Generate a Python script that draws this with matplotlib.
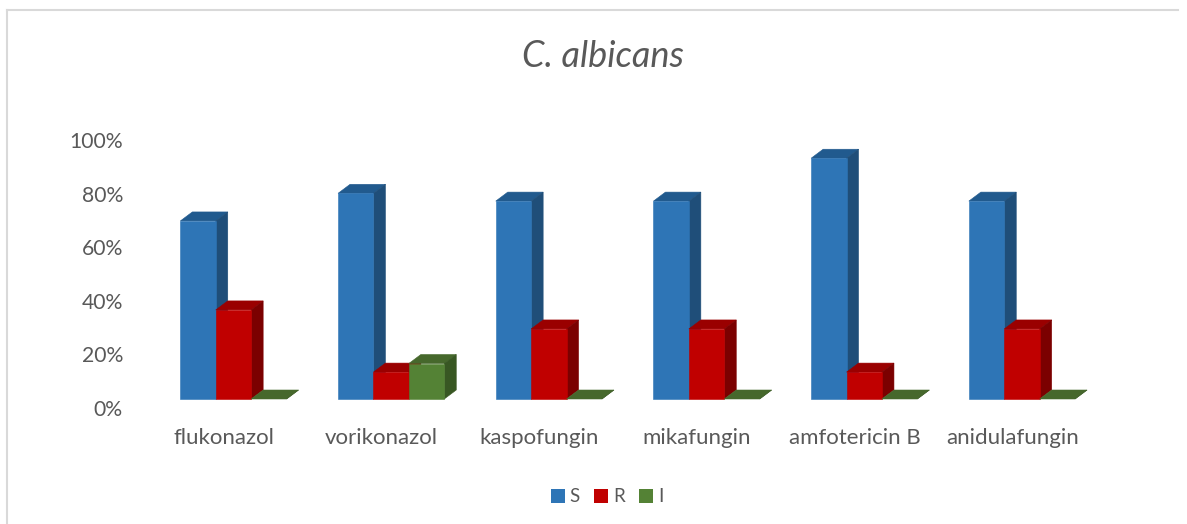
import matplotlib
matplotlib.use("Agg")
import matplotlib.pyplot as plt
from matplotlib.lines import Line2D
from matplotlib.patches import Patch

plt.rcParams['font.family'] = ['Lato', 'DejaVu Sans']

# Chart values (percent)
drugs = ["flukonazol", "vorikonazol", "kaspofungin", "mikafungin", "amfotericin B", "anidulafungin"]
s_vals = [69.8, 80.1, 77.2, 77.2, 93.2, 77.2]
r_vals = [36.6, 13.4, 29.5, 29.5, 13.4, 29.5]
i_vals = [0, 16.6, 0, 0, 0, 0]
y_ticks = [0, 20, 40, 60, 80, 100]

# name, values, front, top, side
series = [
    ("S", s_vals, "#2e75b6", "#215a8e", "#1f4e79"),
    ("R", r_vals, "#c00000", "#9a0000", "#7b0000"),
    ("I", i_vals, "#548235", "#46682c", "#385723"),
]

W, H = 1187, 524
text_color = "#595959"
border_color = "#d9d9d9"

fig = plt.figure(figsize=(W / 100, H / 100), dpi=100, facecolor="white")

# Plot area in pixels: 0% at y=408, 100% at y=140, six groups of 157.7 px
left, right, y0, y100 = 145.1, 1091.3, 408, 140
ax = fig.add_axes([left / W, 1 - y0 / H, (right - left) / W, (y0 - y100) / H])
ax.set_xlim(-0.5, 5.5)
ax.set_ylim(0, 100)

# Fake 3D depth and bar width, in data units
px_x = 6 / (right - left)
px_y = 100 / (y0 - y100)
depth_x = 12 * px_x
depth_y = 9 * px_y
bar_w = 35.4 * px_x
shift = 9.5 * px_x  # bars sit to the right of the labels

z = 3
for n, (name, vals, front, top, side) in enumerate(series):
    for k, v in enumerate(vals):
        x0 = k + shift + (n - 1.5) * bar_w
        x1 = x0 + bar_w
        h = max(v, depth_y)
        ax.fill([x0, x1, x1 + depth_x, x0 + depth_x],
                [h, h, h + depth_y, h + depth_y],
                color=top, linewidth=0.4, zorder=z, clip_on=False)
        ax.fill([x1, x1 + depth_x, x1 + depth_x, x1],
                [depth_y, 2 * depth_y, h + depth_y, h],
                color=side, linewidth=0.4, zorder=z, clip_on=False)
        if v > depth_y:
            ax.bar(x0, h - depth_y, bar_w, bottom=depth_y, align="edge",
                   color=front, edgecolor=front, linewidth=0.4, zorder=z)
    z += 1

for sp in ax.spines.values():
    sp.set_visible(False)
ax.set_xticks(range(len(drugs)))
ax.set_xticklabels(drugs)
ax.set_yticks(y_ticks)
ax.set_yticklabels([f"{t}%" for t in y_ticks])
ax.tick_params(axis="both", length=0, labelcolor=text_color)
ax.tick_params(axis="x", pad=14.5, labelsize=16)
ax.tick_params(axis="y", pad=16, labelsize=15.2)

fig.text(603.5 / W, 1 - 56.5 / H, "C. albicans", ha="center", va="center",
         fontsize=26, style="italic", color=text_color)

handles = [Patch(facecolor=s[2], label=s[0]) for s in series]
fig.legend(handles=handles, loc="center", bbox_to_anchor=(607 / W, 1 - 497 / H),
           ncol=3, frameon=False, fontsize=13.5, labelcolor=text_color,
           handlelength=0.76, handleheight=0.76, handletextpad=0.25, columnspacing=0.75)

# Chart frame, cut by the bottom of the picture
fig.add_artist(Line2D([7 / W, 7 / W], [0, 1 - 10 / H], color=border_color, lw=1.5))
fig.add_artist(Line2D([7 / W, 1178 / W], [1 - 10 / H, 1 - 10 / H], color=border_color, lw=1.5))

fig.savefig("out.png", dpi=100, facecolor="white")
